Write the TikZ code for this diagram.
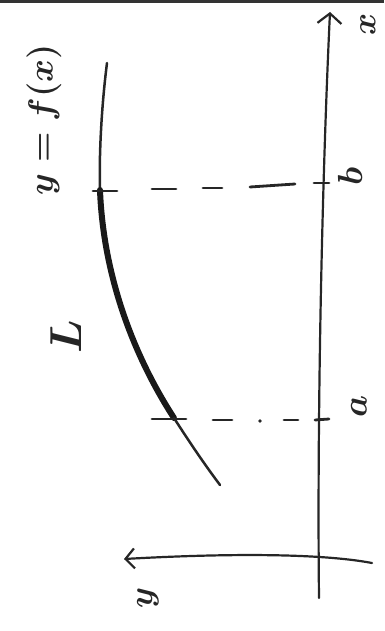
\documentclass[tikz,border=0pt]{standalone}
\usetikzlibrary{arrows.meta}
\begin{document}
\begin{tikzpicture}[x=1pt,y=-1pt,
  axis/.style={line width=2.2pt,line cap=round,draw=black!85},
  curveline/.style={line width=2.5pt,line cap=round,draw=black!85},
  thickpart/.style={line width=6pt,line cap=round,draw=black!90},
  tick/.style={line width=2.8pt,line cap=round,draw=black!85},
  lbl/.style={inner sep=0pt,rotate=90,text=black!85,font=\Huge\boldmath}]
\useasboundingbox (0,0) rectangle (384,631);
\fill[black!80] (0,0) rectangle (384,3.5);
% axes
\coordinate (xbot) at (319,598);
\coordinate (xtop) at (330,12);
\coordinate (ystart) at (372,563);
\coordinate (yend) at (124,559);
\draw[axis,-{Straight Barb[length=10pt,width=24pt,line width=2.2pt]}] (xbot) .. controls (317,420) and (322,180) .. (xtop);
\draw[axis,-{Straight Barb[length=9pt,width=20pt,line width=2.2pt]}] (ystart) .. controls (330,555) and (250,552) .. (yend);
% curve
\coordinate (c0) at (107,63);
\coordinate (cb) at (100,190);
\coordinate (ca) at (174,418);
\coordinate (c1) at (220,485);
\draw[curveline] (c0) .. controls (101,110) and (99,160) .. (cb);
\draw[thickpart] (cb) .. controls (103,270) and (130,350) .. (ca);
\draw[curveline] (ca) .. controls (190,443) and (205,465) .. (c1);
% ticks on curve
\coordinate (tb1) at (93,191); \coordinate (tb2) at (117,191);
\coordinate (ta1) at (152,419); \coordinate (ta2) at (186,419);
\draw[tick] (tb1) -- (tb2);
\draw[tick] (ta1) -- (ta2);
% ticks on x axis
\coordinate (xb1) at (314,183); \coordinate (xb2) at (329,183);
\coordinate (xa1) at (315,420); \coordinate (xa2) at (329,419);
\draw[tick] (xb1) -- (xb2);
\draw[tick] (xa1) -- (xa2);
% dashed lines
\coordinate (db1) at (152,189); \coordinate (db2) at (176,189);
\coordinate (db3) at (203,188); \coordinate (db4) at (222,188);
\coordinate (db5) at (250,187); \coordinate (db6) at (295,184);
\draw[tick] (db1) -- (db2);
\draw[tick] (db3) -- (db4);
\draw[tick] (db5) -- (db6);
\coordinate (da1) at (213,420); \coordinate (da2) at (232,420);
\coordinate (da3) at (284,420); \coordinate (da4) at (298,420);
\draw[tick] (da1) -- (da2);
\draw[tick] (da3) -- (da4);
\fill[black!85] (260,421) circle (1.8);
% labels
\node[lbl,scale=1.35] (lx) at (368,24) {$x$};
\node[lbl,scale=1.35] (ly) at (148,598) {$y$};
\node[lbl,scale=1.4] (lb) at (350,176) {$b$};
\node[lbl,scale=1.4] (la) at (359,406) {$a$};
\node[lbl,scale=1.8] (lL) at (66,337) {$L$};
\node[lbl,scale=1.4] (lf) at (44,120) {$y=f(x)$};
\end{tikzpicture}
\end{document}
